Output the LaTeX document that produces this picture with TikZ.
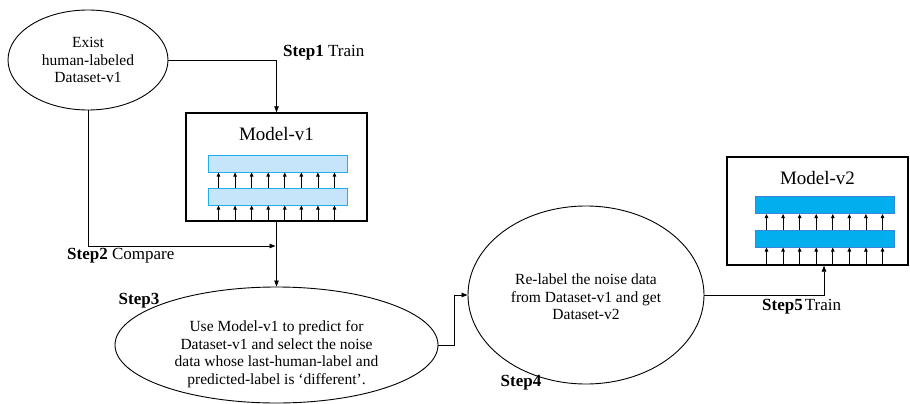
\documentclass[tikz,border=0pt]{standalone}
\usepackage{fontspec}
\setmainfont{Liberation Serif}
\usetikzlibrary{shapes.geometric,arrows.meta,calc}
\definecolor{barlightfill}{HTML}{C6E5FA}
\definecolor{barlightdraw}{HTML}{22ADEB}
\definecolor{bardarkfill}{HTML}{03AEEE}
\definecolor{bardarkdraw}{HTML}{3C86D6}
\begin{document}
\begin{tikzpicture}[x=1pt,y=-1pt,
  ell/.style={draw, ellipse, inner sep=0pt, line width=0.9pt},
  txt/.style={align=center, font=\fontsize{15.5}{17.5}\selectfont},
  stepfont/.style={font=\fontsize{17}{20}\selectfont, inner sep=0pt},
  conn/.style={line width=0.8pt, -{Triangle[length=6pt,width=4.5pt]}},
  mbox/.style={draw, line width=1.4pt, rectangle, inner sep=0pt, minimum width=181pt, minimum height=108pt},
  mtitle/.style={font=\fontsize{19}{22}\selectfont, inner sep=0pt},
  barlight/.style={draw=barlightdraw, fill=barlightfill, line width=1pt, inner sep=0pt, minimum width=139pt, minimum height=17pt},
  bardark/.style={draw=bardarkdraw, fill=bardarkfill, line width=1pt, inner sep=0pt, minimum width=139pt, minimum height=17pt},
  tiny/.style={line width=0.8pt, -{Triangle[length=4pt,width=3.5pt]}}
]
\useasboundingbox (0,0) rectangle (910,404);

% Dataset ellipse
\node[ell, minimum width=160pt, minimum height=100pt] (e1) at (88,60) {};
\node[txt] (e1t) at (88,60) {Exist\\human-labeled\\Dataset-v1};

% Model-v1
\node[mbox] (m1) at (276.5,167) {};
\node[mtitle] (m1t) at (276.5,134) {Model-v1};
\node[barlight] (m1a) at (277.5,163.5) {};
\node[barlight] (m1b) at (277.5,196.5) {};
\foreach \i in {0,...,7}{
  \pgfmathsetmacro{\dx}{11+\i*16.57}
  \draw[tiny] ([xshift=\dx pt]m1b.south west |- m1.south) -- ([xshift=\dx pt]m1b.south west);
  \draw[tiny] ([xshift=\dx pt]m1b.north west) -- ([xshift=\dx pt]m1a.south west);
}

% Model-v2
\node[mbox] (m2) at (817.5,211) {};
\node[mtitle] (m2t) at (817.5,178) {Model-v2};
\node[bardark] (m2a) at (824.5,205) {};
\node[bardark] (m2b) at (824.5,238.5) {};
\foreach \i in {0,...,7}{
  \pgfmathsetmacro{\dx}{12+\i*16.57}
  \draw[tiny] ([xshift=\dx pt]m2b.south west |- m2.south) -- ([xshift=\dx pt]m2b.south west);
  \draw[tiny] ([xshift=\dx pt]m2b.north west) -- ([xshift=\dx pt]m2a.south west);
}

% Step3 ellipse
\node[ell, minimum width=323pt, minimum height=116pt] (e2) at (276.5,345) {};
\node[txt] (e2t) at (276.5,354) {Use Model-v1 to predict for\\Dataset-v1 and select the noise\\data whose last-human-label and\\predicted-label is `different'.};

% Step4 ellipse
\node[ell, minimum width=236pt, minimum height=178pt] (e3) at (586,295) {};
\node[txt] (e3t) at (586,297) {Re-label the noise data\\from Dataset-v1 and get\\Dataset-v2};

% connectors
\draw[conn] (e1.east) -| (m1.north);
\node[stepfont, anchor=west] (s1) at (283,53) {\textbf{Step1} Train};

\coordinate (j2) at (m1.south |- 0,246);
\draw[conn] (e1.south) |- ([xshift=-1pt]j2);
\node[stepfont, anchor=west] (s2) at (67,256) {\textbf{Step2} Compare};

\draw[conn] (m1.south) -- (e2.north);
\node[stepfont] (s3) at (139,301) {\textbf{Step3}};

\draw[conn] (e2.east) -- ++(16,0) |- (e3.west);
\node[stepfont] (s4) at (521,383) {\textbf{Step4}};

\draw[conn] (e3.east) -| ([xshift=6.5pt]m2.south);
\node[stepfont, anchor=west] (s5) at (762,307) {\textbf{Step5}\hspace{2pt}Train};
\end{tikzpicture}
\end{document}
